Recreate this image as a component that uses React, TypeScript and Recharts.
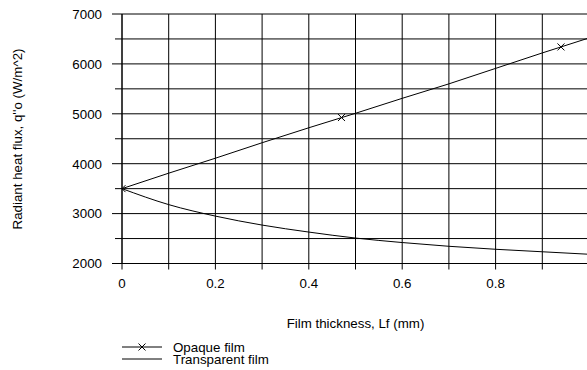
import {
	CartesianGrid,
	ComposedChart,
	Legend,
	Line,
	Scatter,
	XAxis,
	YAxis,
} from 'recharts'

// film thickness (mm) and radiant heat flux (W/m^2)
const thickness = [0, 0.1, 0.2, 0.3, 0.4, 0.5, 0.6, 0.7, 0.8, 0.9, 1.0]
const opaqueFlux = [3500, 3810, 4110, 4420, 4720, 5010, 5310, 5600, 5910, 6220, 6520]
const transparentFlux = [3500, 3180, 2950, 2770, 2630, 2510, 2420, 2345, 2285, 2235, 2185]

// the opaque curve only carries a marker every few samples
const markerThickness = [0, 0.47, 0.94]
const markerFlux = [3500, 4925, 6340]

const xTicks = [0, 0.1, 0.2, 0.3, 0.4, 0.5, 0.6, 0.7, 0.8, 0.9, 1.0]
const xLabels = ['0', '0.2', '0.4', '0.6', '0.8']
const yTicks = [2000, 2500, 3000, 3500, 4000, 4500, 5000, 5500, 6000, 6500, 7000]
const yLabels = ['2000', '3000', '4000', '5000', '6000', '7000']

const seriesNames = ['Opaque film', 'Transparent film']
const xTitle = 'Film thickness, Lf (mm)'
const yTitle = "Radiant heat flux, q''o (W/m^2)"

const FONT = '"Liberation Sans", Arial, sans-serif'
const FS = 13.33

const opaqueData = thickness.map((x, i) => ({ x, y: opaqueFlux[i] }))
const transparentData = thickness.map((x, i) => ({ x, y: transparentFlux[i] }))
const markerData = markerThickness.map((x, i) => ({ x, y: markerFlux[i] }))

const cross = (cx: number, cy: number, r: number) =>
	`M${cx - r},${cy - r}L${cx + r},${cy + r}M${cx - r},${cy + r}L${cx + r},${cy - r}`

const XTick = (props: any) => {
	const { x, y, payload } = props
	const v = Number(payload.value)
	const label = xLabels.find((l) => Number(l) === Math.round(v * 10) / 10)
	return (
		<g>
			<line x1={x} y1={y} x2={x} y2={y + 6} stroke="#000" />
			{label && (
				<text x={x} y={y + 24} textAnchor="middle" fill="#000" fontSize={FS} fontFamily={FONT}>
					{label}
				</text>
			)}
		</g>
	)
}

const YTick = (props: any) => {
	const { x, y, payload } = props
	const label = yLabels.find((l) => Number(l) === payload.value)
	return (
		<g>
			<line x1={x - (label ? 10 : 7)} y1={y} x2={x} y2={y} stroke="#000" />
			{label && (
				<text x={x - 20} y={y + 4.8} textAnchor="end" fill="#000" fontSize={FS} fontFamily={FONT}>
					{label}
				</text>
			)}
		</g>
	)
}

const ChartLegend = () => (
	<svg width={220} height={30} style={{ display: 'block' }}>
		<line x1={0} y1={9} x2={40} y2={9} stroke="#000" />
		<path d={cross(20, 9, 3.5)} stroke="#000" fill="none" />
		<line x1={0} y1={21} x2={40} y2={21} stroke="#000" />
		<text x={51} y={13.5} fontSize={FS} fontFamily={FONT} fill="#000">
			{seriesNames[0]}
		</text>
		<text x={51} y={25.5} fontSize={FS} fontFamily={FONT} fill="#000">
			{seriesNames[1]}
		</text>
	</svg>
)

export default function App() {
	return (
		<div
			style={{
				position: 'fixed',
				left: 0,
				top: 0,
				width: 587,
				height: 370,
				overflow: 'hidden',
				background: '#fff',
			}}
		>
			<ComposedChart
				width={600}
				height={370}
				margin={{ top: 14, right: 11, left: 0, bottom: 76.5 }}
			>
				<CartesianGrid stroke="#000" strokeWidth={1} />
				<XAxis
					type="number"
					dataKey="x"
					domain={[0, 1]}
					ticks={xTicks}
					interval={0}
					allowDataOverflow
					height={30}
					tickSize={0}
					tickMargin={0}
					tickLine={false}
					tick={<XTick />}
					axisLine={{ stroke: '#000' }}
					label={{
						content: () => (
							<text x={355.5} y={328} textAnchor="middle" fontSize={FS} fontFamily={FONT} fill="#000">
								{xTitle}
							</text>
						),
					}}
				/>
				<YAxis
					type="number"
					dataKey="y"
					domain={[2000, 7000]}
					ticks={yTicks}
					interval={0}
					allowDataOverflow
					width={122}
					tickSize={0}
					tickMargin={0}
					tickLine={false}
					tick={<YTick />}
					axisLine={{ stroke: '#000' }}
					label={{
						content: () => (
							<text
								x={22}
								y={139}
								transform="rotate(-90 22 139)"
								textAnchor="middle"
								fontSize={FS}
								fontFamily={FONT}
								fill="#000"
							>
								{yTitle}
							</text>
						),
					}}
				/>
				<Line
					data={opaqueData}
					dataKey="y"
					name={seriesNames[0]}
					type="linear"
					stroke="#000"
					strokeWidth={1}
					dot={false}
					activeDot={false}
					isAnimationActive={false}
				/>
				<Line
					data={transparentData}
					dataKey="y"
					name={seriesNames[1]}
					type="monotone"
					stroke="#000"
					strokeWidth={1}
					dot={false}
					activeDot={false}
					isAnimationActive={false}
				/>
				<Scatter
					data={markerData}
					dataKey="y"
					isAnimationActive={false}
					legendType="none"
					shape={(p: any) => <path d={cross(p.cx, p.cy, 3.5)} stroke="#000" fill="none" />}
				/>
				<Legend
					layout="vertical"
					align="center"
					verticalAlign="middle"
					wrapperStyle={{ position: 'absolute', left: 122, top: 338, width: 220 }}
					content={() => <ChartLegend />}
				/>
			</ComposedChart>
		</div>
	)
}
